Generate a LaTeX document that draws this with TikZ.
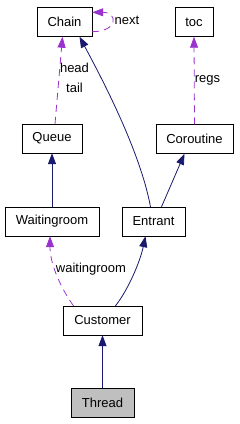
\documentclass[tikz,border=0pt]{standalone}
\usepackage{fontspec}
\setmainfont{Liberation Sans}
\usetikzlibrary{arrows.meta}
\definecolor{inhcol}{RGB}{25,25,112}
\definecolor{usecol}{RGB}{154,50,205}

\begin{document}
\begin{tikzpicture}[x=1pt, y=-1pt,
  cls/.style={draw, fill=white, inner sep=0pt, minimum height=29pt, font=\fontsize{13}{15}\selectfont},
  inh/.style={draw=inhcol, line width=0.8pt, -{Triangle[length=11pt,width=8pt,fill=inhcol]}},
  usage/.style={draw=usecol, line width=0.8pt, dash pattern=on 7pt off 5pt, -{Triangle[length=11pt,width=8pt,fill=usecol]}},
  lbl/.style={font=\fontsize{13}{15}\selectfont}]
  \useasboundingbox (0,0) rectangle (239,424);
  % classes
  \node[cls, minimum width=55pt] (chain) at (64.5,22) {Chain};
  \node[cls, minimum width=38pt] (toc) at (194,22) {toc};
  \node[cls, minimum width=60pt] (queue) at (52,138.5) {Queue};
  \node[cls, minimum width=77pt] (coroutine) at (194.5,139) {Coroutine};
  \node[cls, minimum width=94pt] (waitingroom) at (52,221.5) {Waitingroom};
  \node[cls, minimum width=63pt] (entrant) at (153.5,221.5) {Entrant};
  \node[cls, minimum width=79pt] (customer) at (102.5,320.5) {Customer};
  \node[cls, minimum width=63pt, fill=gray!50] (thread) at (102.5,402.5) {Thread};
  % inheritance
  \draw[inh] (thread) -- (customer);
  \draw[inh] (waitingroom) -- (queue);
  \draw[inh] ([xshift=13]customer.north) .. controls (128,290) and (140,262) .. ([xshift=-8]entrant.south);
  \draw[inh] ([xshift=8]entrant.north) -- ([xshift=-10]coroutine.south);
  \draw[inh] ([xshift=-3]entrant.north) .. controls (140,150) and (100,75) .. ([xshift=15]chain.south);
  % usage
  \draw[usage] ([yshift=5]chain.south east) .. controls +(26,0) and +(26,0) .. ([yshift=-5]chain.north east);
  \node[lbl] (next) at (127,20) {next};
  \draw[usage] ([xshift=3]queue.north) -- ([xshift=-2]chain.south);
  \node[lbl] (head) at (74.5,68) {head};
  \node[lbl] (tail) at (74.5,88) {tail};
  \draw[usage] (coroutine.north) -- (toc.south);
  \node[lbl] (regs) at (207.5,80) {regs};
  \draw[usage] ([xshift=-29]customer.north) .. controls (62,290) and (50,265) .. ([xshift=-2]waitingroom.south);
  \node[lbl] (wr) at (91,269) {waitingroom};
\end{tikzpicture}
\end{document}
